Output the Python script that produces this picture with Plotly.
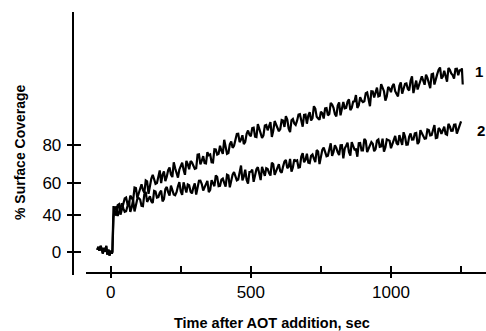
import plotly.graph_objects as go

# ---------------- data ----------------
# pre-addition baseline shared by both traces (time, sec ; coverage in axis units)
T_PRE = [-48, -44, -40, -36, -32, -28, -24, -20, -16, -12, -8, -4, 0, 4, 6, 8]
U_PRE = [1, 2.5, 0.5, 3, 1.5, -1, 2, 0, 3, -1.5, 1, -2, 0.5, -1, 0, 18]

T_MAIN = [10, 20, 30, 40, 50, 60, 70, 80, 90, 100, 110, 120, 130, 140, 150, 160, 170, 180, 190, 200,
          210, 220, 230, 240, 250, 260, 270, 280, 290, 300, 310, 320, 330, 340, 350, 360, 370, 380, 390, 400,
          410, 420, 430, 440, 450, 460, 470, 480, 490, 500, 510, 520, 530, 540, 550, 560, 570, 580, 590, 600,
          610, 620, 630, 640, 650, 660, 670, 680, 690, 700, 710, 720, 730, 740, 750, 760, 770, 780, 790, 800,
          810, 820, 830, 840, 850, 860, 870, 880, 890, 900, 910, 920, 930, 940, 950, 960, 970, 980, 990, 1000,
          1010, 1020, 1030, 1040, 1050, 1060, 1070, 1080, 1090, 1100, 1110, 1120, 1130, 1140, 1150, 1160, 1170,
          1180, 1190, 1200, 1210, 1220, 1230, 1240, 1250]

T_MID = [15, 25, 35, 45, 55, 65, 75, 85, 95, 105, 115, 125, 135, 145, 155, 165, 175, 185, 195, 205,
         215, 225, 235, 245, 255, 265, 275, 285, 295, 305, 315, 325, 335, 345, 355, 365, 375, 385, 395, 405,
         415, 425, 435, 445, 455, 465, 475, 485, 495, 505, 515, 525, 535, 545, 555, 565, 575, 585, 595, 605,
         615, 625, 635, 645, 655, 665, 675, 685, 695, 705, 715, 725, 735, 745, 755, 765, 775, 785, 795, 805,
         815, 825, 835, 845, 855, 865, 875, 885, 895, 905, 915, 925, 935, 945, 955, 965, 975, 985, 995, 1005,
         1015, 1025, 1035, 1045, 1055, 1065, 1075, 1085, 1095, 1105, 1115, 1125, 1135, 1145, 1155, 1165, 1175,
         1185, 1195, 1205, 1215, 1225, 1235, 1245]

CURVE1 = [24, 19, 25, 22, 28, 25, 29.5, 27, 33.5, 30.5, 35.5, 31, 37, 35, 40.5, 35.7, 39.4, 36.1, 42.3, 39.5,
          44.3, 39.3, 43.9, 39, 45.6, 43.2, 47.8, 43.4, 47, 43.6, 51.1, 46, 50.3, 46.5, 50.8, 47.1, 53.9, 51.1, 55.8, 51.5,
          55.7, 52, 58, 55.8, 62, 57.7, 61.3, 57.8, 63.8, 60.8, 65.3, 60.4, 64.9, 59.9, 66.4, 63.9, 68.2, 63.6, 67, 63.4,
          69.3, 65.7, 69.6, 63, 69.9, 66.8, 72.2, 68.5, 72, 67.4, 73.4, 70.3, 75.3, 70.2, 73.7, 70.1, 75.6, 72.5, 77.5, 72.4,
          76.9, 71.8, 78.8, 75.7, 80.2, 75.7, 79.2, 75.7, 81.3, 78.8, 83.5, 79.2, 84.5, 81.2, 86.4, 82.1, 85.8, 79.6, 86.8, 84,
          88.3, 83.1, 87.4, 83.2, 88.4, 85.7, 90, 83.5, 90.1, 87.2, 92.3, 87.9, 91.5, 86.1, 93.7, 91.2, 95.8,
          91.1, 95.3, 89.5, 95.8, 93, 96.2, 92.9, 95.6]

CURVE1_MID = [20.5, 24.5, 19.5, 25.5, 28.5, 24.8, 28.3, 33.8, 28.3, 33.5, 32.5, 37.5, 30.5, 38.5, 37.4, 36.1, 42.8, 40.5, 37.2, 42.9,
              40.6, 47.1, 40.7, 43.3, 46.9, 40.5, 46.1, 47.7, 45.3, 43.9, 51.3, 47.9, 46.7, 52.4, 51.2, 47, 53.8, 51.5, 53.2, 58.9,
              51.6, 56.5, 54.7, 59.9, 62.1, 59, 56.6, 62.1, 61.6, 65.1, 60.6, 67.2, 62.7, 61.2, 66.7, 66.1, 60.4, 68.8, 66.2, 64.6,
              69, 71.4, 64.8, 69.2, 67.6, 69, 72.4, 65.8, 72.2, 71.7, 69.1, 76.6, 71, 69.5, 72.9, 75.4, 71.8, 78.3, 75.7, 71.2,
              78.6, 76.1, 75.5, 79, 74.5, 79, 82.5, 77, 79.6, 79.2, 83.9, 76.6, 84.4, 84.1, 81.8, 88.2, 84.5, 81.7, 85.9, 87.2,
              84.5, 81.8, 89.1, 86.3, 88.6, 84.9, 92.3, 86.8, 85.4, 90, 89.6, 93.2, 88.8, 93.4, 88, 93.5, 97,
              92.2, 91.4, 96.7, 93.9, 91.1, 96.3, 95.5]

CURVE2 = [18, 23.5, 21, 25.5, 21, 25, 21, 27.3, 24.5, 28.2, 24.2, 30.2, 26.2, 29.2, 25.7, 31.7, 28.7, 32.2, 27.7, 34.1,
          29.6, 32.9, 29.7, 34.4, 31.7, 36.5, 31.2, 35, 30.7, 36, 33.2, 37.4, 32.2, 36.1, 31.4, 37.7, 34.5, 39.3, 34.7, 38.5,
          34.3, 40.1, 37.2, 41.9, 37.6, 41.3, 37.5, 43.2, 35.9, 42.1, 36.8, 43.4, 40.6, 44.7, 39.9, 43.6, 40.1, 46.1, 42.6, 46.1,
          41.6, 47.5, 44, 48.9, 44.4, 47.8, 44.3, 50.1, 47.1, 51.6, 46.7, 51.2, 47.2, 52.8, 50.3, 54.8, 50.3, 53.8, 50.4, 56.1,
          52.3, 56, 49.2, 55.8, 52.5, 57.7, 53.8, 50, 57.2, 53.3, 58.4, 54.1, 57.7, 52.9, 58.5, 55.2, 59.5, 54.9, 58.7, 54.5,
          59.8, 57.1, 61.4, 56.2, 60.6, 56.4, 62.3, 59.1, 62.5, 57.8, 62.7, 59.5, 64.3, 61.2, 64.5, 59.8, 65.1,
          62, 65.8, 61.6, 65.9, 63.7, 67, 64.8, 68.6]

CURVE2_MID = [23.3, 18.8, 23.3, 22.8, 21.3, 26.8, 23.4, 21.2, 27.9, 27.5, 24, 31.5, 28, 26.5, 32, 28.5, 31, 26.5, 32.9, 31.4,
              34.8, 30.1, 31.3, 36.6, 29.9, 34.1, 35.4, 31.6, 33.9, 30.1, 37.3, 35.6, 33.9, 37.3, 32.6, 35.9, 40.2, 34.5, 37.9, 36.2,
              40.5, 33.9, 40.6, 39.3, 38, 45.4, 39.6, 37.8, 42, 43.2, 39.4, 44.5, 37.7, 41.8, 44, 41.4, 46.9, 40.4, 44.9, 42.4,
              44.8, 48.3, 44.7, 42.2, 48.6, 48.1, 44.5, 51.9, 48.4, 46.9, 50.5, 49, 53.5, 46.1, 53.6, 52.1, 50.6, 57.1, 52.5, 54.7,
              50.9, 56.1, 54.3, 57.4, 50.6, 55.8, 53.9, 57.1, 53.3, 59.4, 52.5, 55.7, 56.8, 54, 59.1, 55.4, 52.7, 59.1, 58.4, 56.7,
              61, 56.3, 58.6, 62.9, 56.3, 60.6, 59, 62.3, 56.7, 64, 61.4, 59.7, 64, 61.4, 66.7, 60, 64.3,
              63.7, 62, 67.3, 63.6, 66.9, 62.2, 66.5]

# end of trace 1 has a short downward tick
T_END1 = [1253, 1256]
U_END1 = [96.5, 88]

X_TICKS = [0, 250, 500, 750, 1000, 1250]
X_TICK_TEXT = ["0", "", "500", "", "1000", ""]
Y_TICK_TEXT = ["0", "40", "60", "80"]
Y_TICK_AT = [0, 19.3, 36.2, 56.2]   # where the reference prints its (uneven) labels

X_TITLE = "Time after AOT addition, sec"
Y_TITLE = "% Surface Coverage"
SERIES_LABELS = ["1", "2"]

# ---------------- figure ----------------
W, H = 486, 331
FONT = "Liberation Sans, Arial, Helvetica, sans-serif"


def merge(ta, ya, tb, yb):
    pairs = sorted(zip(ta + tb, ya + yb))
    return [p[0] for p in pairs], [p[1] for p in pairs]


tm1, um1 = merge(T_MAIN, CURVE1, T_MID, CURVE1_MID)
tm2, um2 = merge(T_MAIN, CURVE2, T_MID, CURVE2_MID)
t1 = T_PRE + tm1 + T_END1
u1 = U_PRE + um1 + U_END1
t2 = T_PRE + tm2
u2 = U_PRE + um2

fig = go.Figure()
for tt, uu in [(t1, u1), (t2, u2)]:
    fig.add_trace(go.Scatter(x=tt, y=uu, mode="lines", line=dict(color="black", width=2.2),
                             showlegend=False, hoverinfo="skip"))


def px_x(p):
    return p / W


def px_y(p):
    return 1 - p / H


fig.update_layout(
    width=W, height=H,
    margin=dict(l=0, r=0, t=0, b=0),
    paper_bgcolor="white", plot_bgcolor="white",
    font=dict(family=FONT, color="black"),
    showlegend=False,
    xaxis=dict(
        domain=[px_x(86), 1],
        range=[-88.1, 1339],
        anchor="free", position=px_y(272.7),
        showline=True, linecolor="black", linewidth=2,
        showgrid=False, zeroline=False,
        tickmode="array", tickvals=X_TICKS, ticktext=X_TICK_TEXT,
        ticks="outside", ticklen=4, tickwidth=1.5, tickcolor="black",
        minor=dict(tickmode="array", tickvals=X_TICKS, ticks="inside", ticklen=6,
                   tickwidth=1.5, tickcolor="black", showgrid=False),
        tickfont=dict(size=17, family=FONT, color="black"),
    ),
    yaxis=dict(
        domain=[px_y(275), px_y(12)],
        range=[-12.26, 126.2],
        anchor="free", position=px_x(72.7),
        showline=True, linecolor="black", linewidth=2,
        showgrid=False, zeroline=False,
        tickmode="array", tickvals=Y_TICK_AT, ticktext=Y_TICK_TEXT,
        ticks="outside", ticklen=5, tickwidth=1.5, tickcolor="black",
        minor=dict(tickmode="array", tickvals=Y_TICK_AT, ticks="inside", ticklen=7,
                   tickwidth=1.5, tickcolor="black", showgrid=False),
        tickfont=dict(size=17, family=FONT, color="black"),
        ticklabelstandoff=2,
    ),
)

fig.add_annotation(text=f"<b>{X_TITLE}</b>", xref="paper", yref="paper",
                   x=px_x(271.5), y=px_y(323), xanchor="center", yanchor="middle",
                   showarrow=False, font=dict(size=14.5, family=FONT, color="black"))
fig.add_annotation(text=f"<b>{Y_TITLE}</b>", xref="paper", yref="paper",
                   x=px_x(19.5), y=px_y(152.5), xanchor="center", yanchor="middle",
                   textangle=-90, showarrow=False,
                   font=dict(size=14, family=FONT, color="black"))
for lab, ypix, xpix in zip(SERIES_LABELS, [71, 131], [473, 475]):
    fig.add_annotation(text=f"<b>{lab}</b>", xref="paper", yref="paper",
                       x=px_x(xpix), y=px_y(ypix), xanchor="left", yanchor="middle",
                       showarrow=False, font=dict(size=15, family=FONT, color="black"))

fig.write_html("out.html",
               config={"displayModeBar": False},
               post_script="document.body.style.margin='0px';document.body.style.overflow='hidden';")
